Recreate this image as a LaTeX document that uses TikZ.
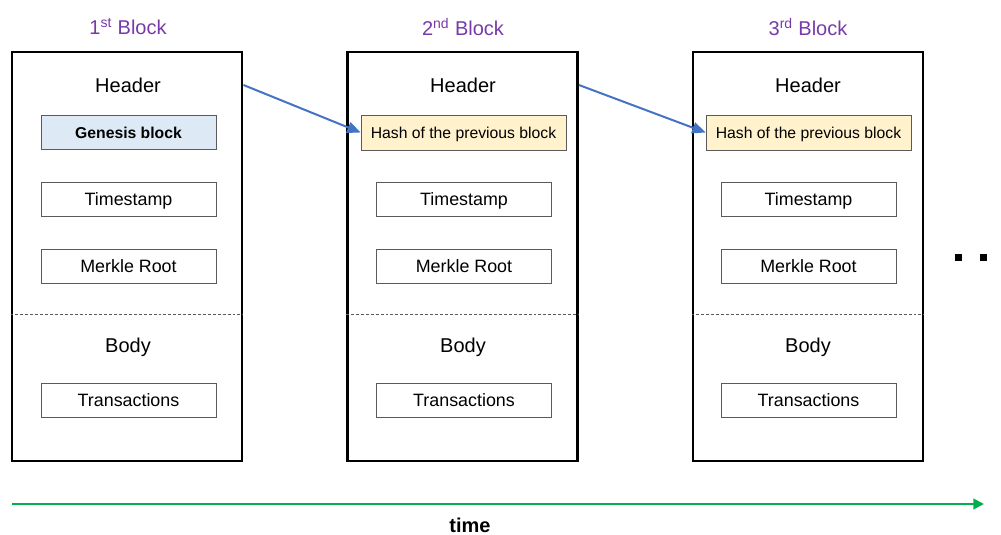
\documentclass[tikz,border=0pt]{standalone}
\usepackage{fontspec}
\setmainfont{Liberation Sans}
\usetikzlibrary{arrows.meta,calc}
\definecolor{titlepurple}{RGB}{118,58,170}
\definecolor{linkblue}{RGB}{68,114,196}
\definecolor{timegreen}{RGB}{0,176,80}
\definecolor{genesisfill}{RGB}{221,234,246}
\definecolor{hashfill}{RGB}{255,242,204}
\definecolor{boxline}{RGB}{90,90,90}
\begin{document}
\begin{tikzpicture}[x=0.75pt,y=-0.75pt,
  capcentre/.style={text height=#1,text depth=0pt},
  blockbox/.style={draw=black,line width=2.2pt,minimum width=172.5pt,minimum height=306.75pt,inner sep=0pt},
  titletext/.style={text=titlepurple,font=\fontsize{15}{18}\selectfont},
  parttext/.style={capcentre=10.7pt,inner sep=0pt,font=\fontsize{15}{18}\selectfont},
  fieldbox/.style={draw=boxline,line width=0.6pt,minimum width=131.25pt,minimum height=25.5pt,inner sep=0pt,capcentre=9.6pt,font=\fontsize{13.4}{16}\selectfont},
  genesisbox/.style={fieldbox,fill=genesisfill,capcentre=8.5pt,font=\fontsize{11.8}{14}\selectfont\bfseries},
  hashbox/.style={draw=boxline,line width=0.6pt,fill=hashfill,minimum width=153.75pt,minimum height=26.25pt,inner sep=0pt,capcentre=8.45pt,font=\fontsize{11.8}{14}\selectfont},
  linkarrow/.style={draw=linkblue,line width=1.5pt,-{Triangle[length=10pt,width=8.5pt]}},
  sepline/.style={draw=boxline,line width=0.6pt,dash pattern=on 2.2pt off 1.5pt},
  dotsq/.style={fill=black,minimum size=5.2pt,inner sep=0pt}
]
\useasboundingbox (0,0) rectangle (1001,535);

% three blocks of the chain
\node[blockbox] (b1) at (127,256.5) {};
\node[blockbox] (b2) at (462.5,256.5) {};
\node[blockbox] (b3) at (808,256.5) {};

% titles
\node[titletext] (t1) at (128,27) {1\textsuperscript{st} Block};
\node[titletext] (t2) at (463,27) {2\textsuperscript{nd} Block};
\node[titletext] (t3) at (808,27) {3\textsuperscript{rd} Block};

% block 1
\node[parttext] (hd1) at (128,85) {Header};
\node[genesisbox] (g1) at (128.5,132.5) {Genesis block};
\node[fieldbox] (ts1) at (128.5,199.5) {Timestamp};
\node[fieldbox] (mr1) at (128.5,266.5) {Merkle Root};
\node[parttext] (bd1) at (128,345) {Body};
\node[fieldbox] (tx1) at (128.5,400.5) {Transactions};

% block 2
\node[parttext] (hd2) at (463,85) {Header};
\node[hashbox] (h2) at (463.5,132.5) {Hash of the previous block};
\node[fieldbox] (ts2) at (464,199.5) {Timestamp};
\node[fieldbox] (mr2) at (464,266.5) {Merkle Root};
\node[parttext] (bd2) at (463,345) {Body};
\node[fieldbox] (tx2) at (464,400.5) {Transactions};

% block 3
\node[parttext] (hd3) at (808,85) {Header};
\node[hashbox] (h3) at (808.5,132.5) {Hash of the previous block};
\node[fieldbox] (ts3) at (808.5,199.5) {Timestamp};
\node[fieldbox] (mr3) at (808.5,266.5) {Merkle Root};
\node[parttext] (bd3) at (808,345) {Body};
\node[fieldbox] (tx3) at (808.5,400.5) {Transactions};

% header / body separators
\coordinate (sep) at (0,314);
\draw[sepline] (b1.west |- sep) -- (b1.east |- sep);
\draw[sepline] (b2.west |- sep) -- (b2.east |- sep);
\draw[sepline] (b3.west |- sep) -- (b3.east |- sep);

% hash links
\draw[linkarrow] (b1.east |- hd1) -- (h2.west);
\draw[linkarrow] (b2.east |- hd2) -- (h3.west);

% continuation dots
\node[dotsq] (d1) at (958.5,257.5) {};
\node[dotsq] (d2) at (983.5,257.5) {};

% time axis
\coordinate (tstart) at (12,504);
\coordinate (tend) at (984,504);
\draw[timegreen,line width=1.5pt,-{Triangle[length=8pt,width=8pt]}] (tstart) -- (tend);
\node[capcentre=10.7pt,inner sep=0pt,font=\fontsize{15}{18}\selectfont\bfseries] (tm) at (470,525.5) {time};
\end{tikzpicture}
\end{document}
